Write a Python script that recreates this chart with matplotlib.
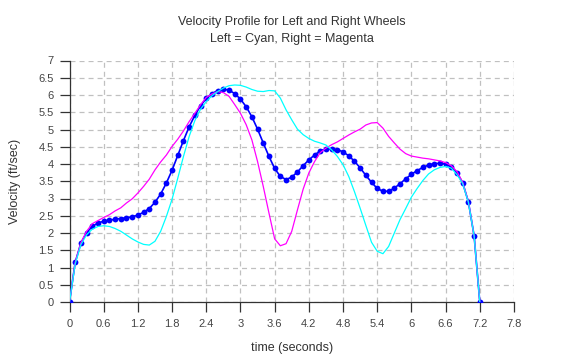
import matplotlib
matplotlib.use("Agg")
import matplotlib.pyplot as plt

plt.rcParams['font.family'] = ['Liberation Sans', 'DejaVu Sans']
plt.rcParams['lines.scale_dashes'] = False

time = [0.0, 0.1, 0.2, 0.3, 0.4, 0.5, 0.6, 0.7, 0.8, 0.9,
        1.0, 1.1, 1.2, 1.3, 1.4, 1.5, 1.6, 1.7, 1.8, 1.9,
        2.0, 2.1, 2.2, 2.3, 2.4, 2.5, 2.6, 2.7, 2.8, 2.9,
        3.0, 3.1, 3.2, 3.3, 3.4, 3.5, 3.6, 3.7, 3.8, 3.9,
        4.0, 4.1, 4.2, 4.3, 4.4, 4.5, 4.6, 4.7, 4.8, 4.9,
        5.0, 5.1, 5.2, 5.3, 5.4, 5.5, 5.6, 5.7, 5.8, 5.9,
        6.0, 6.1, 6.2, 6.3, 6.4, 6.5, 6.6, 6.7, 6.8, 6.9,
        7.0, 7.1, 7.2]

center = [0.00, 1.15, 1.71, 2.01, 2.19, 2.29, 2.34, 2.37, 2.40, 2.42,
          2.44, 2.47, 2.52, 2.60, 2.71, 2.89, 3.13, 3.45, 3.82, 4.25,
          4.68, 5.08, 5.41, 5.69, 5.90, 6.04, 6.13, 6.17, 6.14, 6.04,
          5.88, 5.66, 5.37, 5.01, 4.61, 4.22, 3.87, 3.64, 3.55, 3.62,
          3.77, 3.95, 4.12, 4.26, 4.38, 4.44, 4.44, 4.42, 4.35, 4.24,
          4.08, 3.89, 3.67, 3.47, 3.29, 3.21, 3.21, 3.30, 3.43, 3.57,
          3.70, 3.81, 3.90, 3.97, 4.01, 4.02, 4.00, 3.92, 3.75, 3.45,
          2.90, 1.92, 0.00]

right = [0.00, 1.15, 1.72, 2.05, 2.27, 2.36, 2.45, 2.53, 2.64, 2.73,
         2.87, 2.99, 3.16, 3.35, 3.56, 3.83, 4.06, 4.26, 4.51, 4.72,
         4.96, 5.23, 5.47, 5.72, 5.93, 6.03, 6.10, 6.07, 5.96, 5.72,
         5.47, 5.14, 4.70, 4.07, 3.35, 2.58, 1.83, 1.63, 1.69, 2.05,
         2.67, 3.27, 3.74, 4.07, 4.33, 4.46, 4.56, 4.64, 4.74, 4.84,
         4.93, 5.01, 5.13, 5.19, 5.20, 5.04, 4.80, 4.61, 4.43, 4.30,
         4.23, 4.20, 4.17, 4.15, 4.12, 4.09, 4.04, 3.95, 3.78, 3.47,
         2.91, 1.92, 0.00]

left = [0.00, 1.10, 1.66, 1.95, 2.11, 2.19, 2.21, 2.19, 2.13, 2.05,
        1.94, 1.83, 1.74, 1.67, 1.65, 1.76, 2.05, 2.48, 2.98, 3.59,
        4.22, 4.80, 5.26, 5.59, 5.81, 5.98, 6.10, 6.20, 6.27, 6.29,
        6.28, 6.23, 6.16, 6.11, 6.10, 6.13, 6.12, 5.91, 5.57, 5.28,
        5.01, 4.85, 4.74, 4.66, 4.61, 4.55, 4.41, 4.22, 3.98, 3.64,
        3.20, 2.72, 2.22, 1.73, 1.47, 1.40, 1.61, 2.00, 2.39, 2.71,
        3.04, 3.29, 3.52, 3.71, 3.83, 3.90, 3.93, 3.88, 3.69, 3.43,
        2.89, 1.92, 0.00]

xticks = [0, 0.6, 1.2, 1.8, 2.4, 3, 3.6, 4.2, 4.8, 5.4, 6, 6.6, 7.2, 7.8]
xticklabels = ['0', '0.6', '1.2', '1.8', '2.4', '3', '3.6', '4.2', '4.8', '5.4', '6', '6.6', '7.2', '7.8']
yticks = [0, 0.5, 1, 1.5, 2, 2.5, 3, 3.5, 4, 4.5, 5, 5.5, 6, 6.5, 7]
yticklabels = ['0', '0.5', '1', '1.5', '2', '2.5', '3', '3.5', '4', '4.5', '5', '5.5', '6', '6.5', '7']

W, H = 584, 362
fig = plt.figure(figsize=(W / 100, H / 100), dpi=100)
ax = fig.add_axes([69.5 / W, 1 - 302 / H, (514 - 69.5) / W, (302 - 60.5) / H])

ax.plot(time, center, color='#0000ff', lw=1.2, marker='o', ms=4.2,
        markeredgewidth=0, zorder=3)
ax.plot(time, right, color='#ff00ff', lw=0.9, zorder=4)
ax.plot(time, left, color='#00ffff', lw=0.9, zorder=5)

ax.set_xlim(0, 7.8)
ax.set_ylim(0, 7)
ax.set_xticks(xticks)
ax.set_xticklabels(xticklabels)
ax.set_yticks(yticks)
ax.set_yticklabels(yticklabels)

ax.grid(True, color='#c0c0c0', lw=0.9, linestyle=(0, (3.6, 2.9)), zorder=0)
ax.set_axisbelow(True)
for s in ['top', 'right']:
    ax.spines[s].set_visible(False)
for s in ['left', 'bottom']:
    ax.spines[s].set_color('#333333')
    ax.spines[s].set_linewidth(0.9)
ax.tick_params(axis='both', direction='out', length=7, width=0.9,
               color='#333333', labelcolor='#444444', labelsize=8)
ax.tick_params(axis='y', pad=4.3)
ax.tick_params(axis='x', pad=5)

fig.text(291.7 / W, 1 - 348 / H, 'time (seconds)', ha='center', va='center',
         fontsize=9, color='#333333')
fig.text(15 / W, 1 - 181 / H, 'Velocity (ft/sec)', ha='center', va='center',
         rotation=90, fontsize=9, color='#333333')

fig.text(291.7 / W, 1 - 22 / H, 'Velocity Profile for Left and Right Wheels',
         ha='center', va='center', fontsize=9, color='#333333')
fig.text(291.7 / W, 1 - 39 / H, 'Left = Cyan, Right = Magenta',
         ha='center', va='center', fontsize=9, color='#333333')

fig.savefig('out.png', dpi=100)
